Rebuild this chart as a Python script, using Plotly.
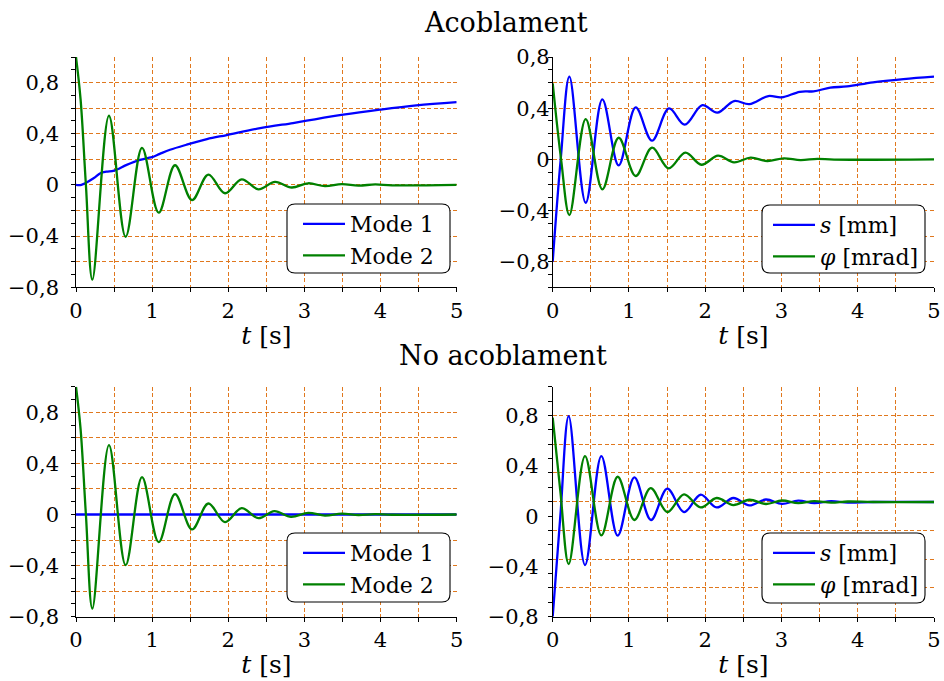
import numpy as np
import plotly.graph_objects as go

# ---------------- data ----------------
# Acoblament – modal coordinates
t_acob_mode1 = [0, 0.07, 0.23, 0.32, 0.40, 0.50, 0.665, 0.84, 0.94, 1.00, 1.10, 1.235, 1.45,
                1.72, 1.98, 2.42, 2.85, 3.03, 3.51, 3.99, 4.47, 5.0]
acob_mode1 = [0, 0.0, 0.052, 0.092, 0.104, 0.112, 0.157, 0.196, 0.21, 0.218, 0.243, 0.275, 0.314,
              0.358, 0.39, 0.444, 0.484, 0.502, 0.549, 0.588, 0.622, 0.648]
t_acob_mode2 = [0, 0.06, 0.13, 0.215, 0.433, 0.652, 0.867, 1.086, 1.30, 1.524, 1.738, 1.957,
                2.176, 2.395, 2.614, 2.833, 3.05, 3.27, 3.49, 3.71, 3.93, 4.15, 5.0]
acob_mode2 = [1.0, 0.67, 0.0, -0.74, 0.541, -0.405, 0.29, -0.217, 0.154, -0.118, 0.081, -0.065,
              0.044, -0.034, 0.024, -0.02, 0.013, -0.01, 0.007, -0.005, 0.004, -0.003, 0.0]

# Acoblament – physical coordinates
t_acob_s = [0, 0.105, 0.219, 0.433, 0.651, 0.865, 1.088, 1.302, 1.525, 1.731, 1.962, 2.159,
            2.378, 2.579, 2.828, 3.0, 3.24, 3.42, 3.64, 3.86, 4.2, 4.6, 5.0]
acob_s = [-0.80, 0.0, 0.646, -0.339, 0.469, -0.047, 0.406, 0.146, 0.398, 0.271, 0.424, 0.365,
          0.456, 0.432, 0.495, 0.484, 0.528, 0.532, 0.56, 0.57, 0.602, 0.627, 0.646]
t_acob_phi = [0, 0.11, 0.219, 0.433, 0.651, 0.865, 1.088, 1.302, 1.52, 1.74, 1.95, 2.168,
              2.378, 2.596, 2.815, 3.03, 3.25, 3.47, 3.69, 5.0]
acob_phi = [0.594, 0.0, -0.435, 0.315, -0.234, 0.169, -0.13, 0.091, -0.07, 0.052, -0.042, 0.029,
            -0.023, 0.013, -0.013, 0.008, -0.006, 0.004, -0.002, 0.0]

# No acoblament – modal coordinates
t_noac_mode1 = [0, 5.0]
noac_mode1 = [0.0, 0.0]
t_noac_mode2 = [0, 0.06, 0.13, 0.215, 0.433, 0.652, 0.867, 1.086, 1.30, 1.524, 1.738, 1.957,
                2.176, 2.395, 2.605, 2.824, 3.05, 3.27, 3.49, 3.71, 3.93, 4.15, 5.0]
noac_mode2 = [1.0, 0.67, 0.0, -0.736, 0.543, -0.397, 0.292, -0.217, 0.159, -0.117, 0.086, -0.06,
              0.05, -0.029, 0.026, -0.018, 0.013, -0.009, 0.006, -0.004, 0.003, -0.002, 0.0]

# No acoblament – physical coordinates
t_noac_s = [0, 0.1, 0.21, 0.424, 0.638, 0.852, 1.071, 1.289, 1.503, 1.722, 1.94, 2.15, 2.369,
            2.579, 2.797, 3.007, 3.22, 3.43, 3.65, 3.87, 4.2, 5.0]
noac_s = [-0.8, 0.0, 0.797, -0.389, 0.479, -0.155, 0.309, -0.03, 0.219, 0.033, 0.171, 0.07, 0.145,
          0.086, 0.133, 0.098, 0.124, 0.105, 0.119, 0.109, 0.113, 0.113]
t_noac_phi = [0, 0.1, 0.21, 0.424, 0.638, 0.852, 1.071, 1.285, 1.503, 1.722, 1.94, 2.15, 2.369,
              2.579, 2.797, 3.007, 3.22, 3.43, 3.65, 3.87, 4.2, 5.0]
noac_phi = [0.784, 0.2, -0.381, 0.479, -0.153, 0.314, -0.03, 0.224, 0.033, 0.174, 0.07, 0.145,
            0.089, 0.131, 0.097, 0.125, 0.104, 0.12, 0.108, 0.117, 0.113, 0.113]

# tick labels
x_tick_vals = [0, 1, 2, 3, 4, 5]
x_tick_text = ["0", "1", "2", "3", "4", "5"]
y_tick_vals = [-0.8, -0.4, 0, 0.4, 0.8]
y_tick_text = ["\u22120,8", "\u22120,4", "0", "0,4", "0,8"]

titles = ["Acoblament", "No acoblament"]
names_modes = ["Mode 1", "Mode 2"]
names_phys = ["<i>s</i> [mm]", "<i>\u03c6</i> [mrad]"]

# ---------------- styling ----------------
W, H = 944, 681
FONT = "DejaVu Serif"
BLUE, GREEN = "#0000ff", "#008000"
GRID = "#e0781e"
DASH = "4px,2.5px"

fig = go.Figure()

def px_x(p):
    return p / W

def px_y(p):
    return 1 - p / H

XD = {"L": [px_x(76), px_x(456.7)], "R": [px_x(552.7), px_x(934)]}
YD = {"T": [px_y(287.3), px_y(57)], "B": [px_y(616.7), px_y(386.7)]}

panels = [
    dict(c="L", r="T", yr=[-0.8, 1.0], ng=9, so=16, lo=11,
         tr=[(t_acob_mode1, acob_mode1, names_modes[0], BLUE),
             (t_acob_mode2, acob_mode2, names_modes[1], GREEN)],
         box=(287, 204, 450, 273)),
    dict(c="R", r="T", yr=[-1.0, 0.8], ng=9, so=2, lo=6,
         tr=[(t_acob_s, acob_s, names_phys[0], BLUE),
             (t_acob_phi, acob_phi, names_phys[1], GREEN)],
         box=(762, 205, 925, 273)),
    dict(c="L", r="B", yr=[-0.8, 1.0], ng=9, so=16, lo=11,
         tr=[(t_noac_mode1, noac_mode1, names_modes[0], BLUE),
             (t_noac_mode2, noac_mode2, names_modes[1], GREEN)],
         box=(287, 533, 450, 602)),
    dict(c="R", r="B", yr=[-0.8, 1.031], ng=8, so=13, lo=6,
         tr=[(t_noac_s, noac_s, names_phys[0], BLUE),
             (t_noac_phi, noac_phi, names_phys[1], GREEN)],
         box=(762, 533, 925, 603)),
]

shapes = []
layout = {}
for k, p in enumerate(panels, start=1):
    sx = "" if k == 1 else str(k)
    xname, yname = "xaxis" + sx, "yaxis" + sx
    leg = "legend" + sx
    for j, (tt, vv, nm, col) in enumerate(p["tr"]):
        fig.add_trace(go.Scatter(
            x=tt, y=vv, name=nm, mode="lines",
            line=dict(color=col, width=2.3, shape="spline", smoothing=1.0),
            xaxis="x" + sx, yaxis="y" + sx, legend=leg, legendgroup=f"g{k}{j}",
            showlegend=True))
    # empty helper trace so the overlaying label axis is drawn
    fig.add_trace(go.Scatter(x=[], y=[], xaxis="x" + sx, yaxis="y" + str(k + 4),
                             showlegend=False, hoverinfo="skip"))
    grid_vals = list(np.linspace(p["yr"][0], p["yr"][1], p["ng"] + 1))
    tick_vals = list(np.linspace(p["yr"][0], p["yr"][1], 2 * p["ng"] + 1))
    half_x = [i * 0.5 for i in range(11)]
    layout[xname] = dict(
        domain=XD[p["c"]], anchor="y" + sx, range=[0, 5], automargin=False,
        tickmode="array", tickvals=half_x,
        ticktext=[x_tick_text[int(v)] if v == int(v) else "" for v in half_x],
        ticks="outside", ticklen=4, tickwidth=1, tickcolor="black",
        showgrid=True, gridcolor=GRID, griddash=DASH, gridwidth=1.1,
        showline=True, linecolor="black", linewidth=1.3, zeroline=False,
        tickfont=dict(family=FONT, size=21, color="black"),
        title=dict(text="<i>t</i> [s]", font=dict(family=FONT, size=25, color="black"), standoff=4),
    )
    layout[yname] = dict(
        domain=YD[p["r"]], anchor="x" + sx, range=p["yr"], automargin=False,
        tickmode="array", tickvals=grid_vals, showticklabels=False,
        ticks="outside", ticklen=4, tickwidth=1, tickcolor="black",
        showgrid=True, gridcolor=GRID, griddash=DASH, gridwidth=1.1,
        minor=dict(tickmode="array", tickvals=tick_vals, ticks="outside", ticklen=4,
                   tickwidth=1, tickcolor="black", showgrid=False),
        showline=True, linecolor="black", linewidth=1.3, zeroline=False,
    )
    layout["yaxis" + str(k + 4)] = dict(
        domain=YD[p["r"]], anchor="x" + sx, overlaying="y" + sx, side="left", range=p["yr"],
        automargin=False,
        tickmode="array", tickvals=y_tick_vals, ticktext=y_tick_text, ticks="",
        ticklabelstandoff=p["so"], showgrid=False, showline=False, zeroline=False,
        tickfont=dict(family=FONT, size=21, color="black"),
    )
    bx0, by0, bx1, by1 = p["box"]
    layout[leg] = dict(
        x=px_x(bx0 + p["lo"]), y=px_y(by0 - 1), xanchor="left", yanchor="top",
        bgcolor="rgba(0,0,0,0)", borderwidth=0, tracegroupgap=0, itemwidth=42,
        font=dict(family=FONT, size=22, color="black"),
    )
    x0, x1 = px_x(bx0), px_x(bx1)
    y0, y1 = px_y(by1), px_y(by0)
    rx, ry = 8 / W, 8 / H
    path = (f"M{x0+rx},{y1} L{x1-rx},{y1} Q{x1},{y1} {x1},{y1-ry} L{x1},{y0+ry} "
            f"Q{x1},{y0} {x1-rx},{y0} L{x0+rx},{y0} Q{x0},{y0} {x0},{y0+ry} "
            f"L{x0},{y1-ry} Q{x0},{y1} {x0+rx},{y1} Z")
    shapes.append(dict(type="path", path=path, xref="paper", yref="paper",
                       fillcolor="white", line=dict(color="black", width=1.1), layer="above"))

annotations = [
    dict(text=titles[0], x=px_x(506), y=px_y(22), xref="paper", yref="paper",
         showarrow=False, xanchor="center", yanchor="middle",
         font=dict(family=FONT, size=27, color="black")),
    dict(text=titles[1], x=px_x(503), y=px_y(355), xref="paper", yref="paper",
         showarrow=False, xanchor="center", yanchor="middle",
         font=dict(family=FONT, size=27, color="black")),
]

fig.update_layout(
    width=W, height=H, margin=dict(l=0, r=0, t=0, b=0, autoexpand=False),
    paper_bgcolor="white", plot_bgcolor="white",
    shapes=shapes, annotations=annotations, **layout,
)

fig.write_html("out.html", config={"displayModeBar": False},
               post_script="document.body.style.margin='0';document.body.style.overflow='hidden';")
